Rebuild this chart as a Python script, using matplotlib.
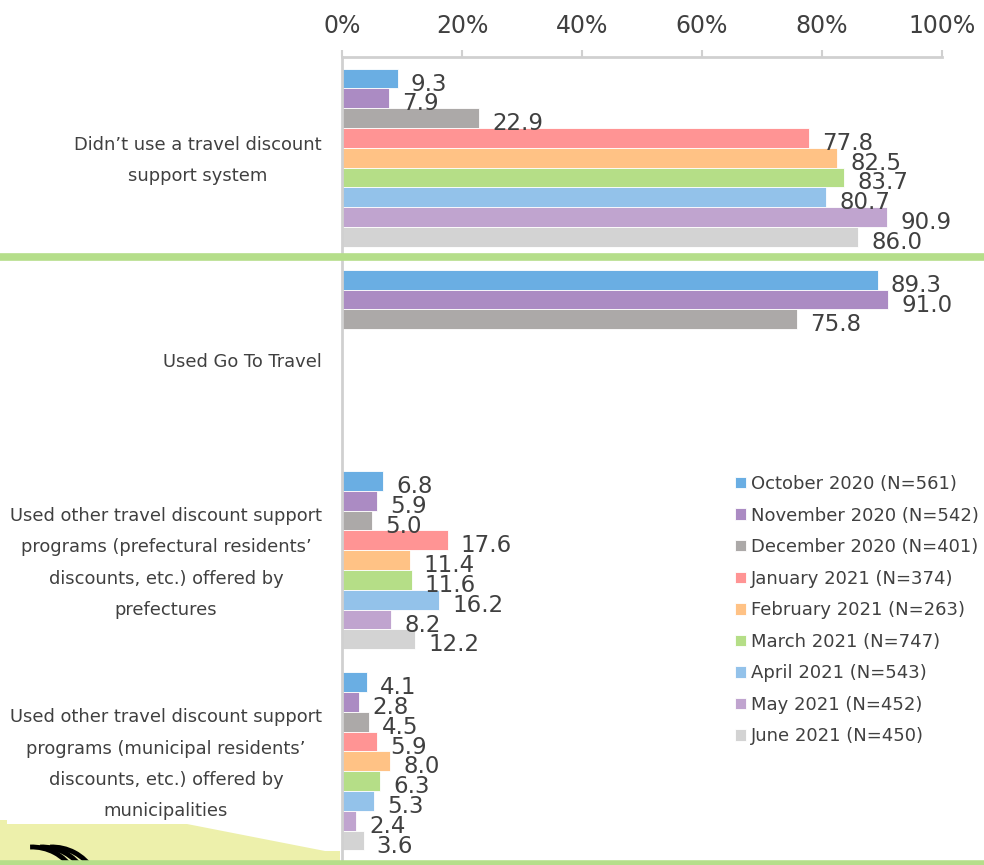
import matplotlib
matplotlib.use("Agg")
import matplotlib.pyplot as plt
import matplotlib.transforms as mtransforms
import numpy as np
from matplotlib.patches import Polygon, Arc

categories = [
    "Didn’t use a travel discount\nsupport system",
    "Used Go To Travel",
    "Used other travel discount support\nprograms (prefectural residents’\ndiscounts, etc.) offered by\nprefectures",
    "Used other travel discount support\nprograms (municipal residents’\ndiscounts, etc.) offered by\nmunicipalities",
]
series = [
    "October 2020 (N=561)",
    "November 2020 (N=542)",
    "December 2020 (N=401)",
    "January 2021 (N=374)",
    "February 2021 (N=263)",
    "March 2021 (N=747)",
    "April 2021 (N=543)",
    "May 2021 (N=452)",
    "June 2021 (N=450)",
]
colors = ["#6aaee3", "#ab8bc3", "#aca9a8", "#ff9494", "#ffc285",
          "#b5de87", "#93c2ea", "#c0a4cf", "#d3d3d3"]
nan = np.nan
# values[series][category]
values = [
    [9.3, 89.3, 6.8, 4.1],
    [7.9, 91.0, 5.9, 2.8],
    [22.9, 75.8, 5.0, 4.5],
    [77.8, nan, 17.6, 5.9],
    [82.5, nan, 11.4, 8.0],
    [83.7, nan, 11.6, 6.3],
    [80.7, nan, 16.2, 5.3],
    [90.9, nan, 8.2, 2.4],
    [86.0, nan, 12.2, 3.6],
]

W, H = 984, 865
fig = plt.figure(figsize=(W / 100, H / 100), dpi=100)
text_c = "#404040"
axis_c = "#d0d0d0"

ax = fig.add_axes([342 / W, 1 - 862 / H, 600 / W, 805 / H])

n = len(series)
group = 0.885
bh = group / n
y = np.arange(len(categories))
for j, (name, vals, c) in enumerate(zip(series, values, colors)):
    pos = y - group / 2 + (j + 0.5) * bh
    v = np.array(vals, dtype=float)
    ax.barh(pos, v, height=bh, color=c, edgecolor="white",
            linewidth=0.6, label=name)
    for p, val in zip(pos, v):
        if np.isnan(val):
            continue
        ax.annotate(f"{val:.1f}", (val, p), xytext=(9.5, -4),
                    textcoords="offset points", ha="left", va="center",
                    fontsize=16.5, color=text_c)

ax.set_xlim(0, 100)
ax.set_ylim(len(categories) - 0.5, -0.5)
ax.xaxis.tick_top()
ax.set_xticks(np.arange(0, 101, 20))
ax.set_xticklabels([f"{t}%" for t in range(0, 101, 20)])
ax.tick_params(axis="x", direction="out", length=5, width=1.5,
               color=axis_c, labelcolor=text_c, labelsize=17, pad=9)
ax.set_yticks([])

# category labels, centred lines, right edge just left of the axis
lab_tr = ax.get_yaxis_transform() + mtransforms.ScaledTranslation(
    -20 / 100, -3 / 100, fig.dpi_scale_trans)
for yi, cat in zip(y, categories):
    ax.text(0, yi, cat, transform=lab_tr, ha="right", va="center",
            multialignment="center", linespacing=1.95, fontsize=12.9,
            color=text_c)

for s in ["right", "bottom"]:
    ax.spines[s].set_visible(False)
for s in ["top", "left"]:
    ax.spines[s].set_color(axis_c)
    ax.spines[s].set_linewidth(2)

# green separators
for yy, lw in [(257, 5.5), (863, 4)]:
    fig.add_artist(plt.Line2D([0, 1], [1 - yy / H] * 2, color="#b5de8a",
                              linewidth=lw, transform=fig.transFigure))

# decoration bottom-left
pts = [(0, 820), (7, 820), (7, 824), (187, 824), (325, 851), (340, 851),
       (340, 862), (0, 862)]
fig.add_artist(Polygon([(px / W, 1 - py / H) for px, py in pts],
                       closed=True, transform=fig.transFigure,
                       facecolor="#edf0ab", edgecolor="none", zorder=0))
for dx in [0, 10, 20]:
    fig.add_artist(Arc(((32 + dx) / W, 1 - 895 / H), 96 / W, 96 / H,
                       theta1=35, theta2=92, transform=fig.transFigure,
                       color="black", linewidth=3.5))

ax.legend(loc="upper left", bbox_to_anchor=(726 / W, 1 - 466 / H),
          bbox_transform=fig.transFigure, frameon=False, fontsize=13,
          handlelength=0.6, handleheight=0.6, handletextpad=0.3,
          labelspacing=0.75, labelcolor=text_c, borderpad=0)

fig.savefig("out.png", dpi=100)
